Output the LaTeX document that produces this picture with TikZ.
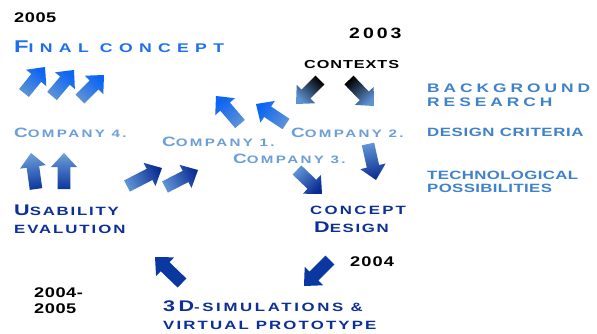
\documentclass[tikz,border=0pt]{standalone}
\usepackage{fontspec}
\setmainfont{Liberation Sans}
\newfontfamily\widefont{Liberation Sans}[FakeStretch=1.4]
\newfontfamily\yearfont{Liberation Sans}[FakeStretch=1.3]
\usetikzlibrary{calc}

\definecolor{brightblue}{HTML}{1E6FEF}
\definecolor{steelblue}{HTML}{3F82CC}
\definecolor{paleblue}{HTML}{6C9FD8}
\definecolor{navy}{HTML}{0C2F98}
\definecolor{arrowlight}{HTML}{5E92D4}
\definecolor{arrowbright}{HTML}{0A64F6}
\definecolor{arrowdark}{HTML}{0A2C92}
\definecolor{arrowsolid}{HTML}{0B37A0}

% font sizes for fake small caps: capital size, small size
\newcommand\setsz[2]{\def\bsz{#1}\def\ssz{#2}\fontsize{#2}{#2}\selectfont}
\newcommand\B[1]{{\fontsize{\bsz}{\bsz}\selectfont #1}}

% block arrow from tail #1 to tip #2, shaded from #3 (tail) to #4 (tip)
\newcommand\blockarrow[4]{%
  \coordinate (ba-t) at (#1);
  \coordinate (ba-h) at (#2);
  \coordinate (ba-n) at ($(ba-h)!14pt!(ba-t)$);
  \pgfmathanglebetweenpoints{\pgfpointanchor{ba-t}{center}}{\pgfpointanchor{ba-h}{center}}%
  \pgfmathsetmacro\baang{\pgfmathresult+90}%
  \path[left color=#3, right color=#4, shading angle=\baang]
    ($(ba-t)!6.3pt!90:(ba-h)$) -- ($(ba-n)!6.3pt!90:(ba-h)$) --
    ($(ba-n)!13pt!90:(ba-h)$) -- (ba-h) -- ($(ba-n)!13pt!-90:(ba-h)$) --
    ($(ba-n)!6.3pt!-90:(ba-h)$) -- ($(ba-t)!6.3pt!-90:(ba-h)$) -- cycle;
}

\tikzset{
  lbl/.style={anchor=base west, inner sep=0pt, font=\widefont\bfseries},
  year/.style={lbl, text=black},
}

\begin{document}
\begin{tikzpicture}[x=1pt, y=-1pt]
\useasboundingbox[fill=white] (0,0) rectangle (597,333);

% years
\node[year, font=\yearfont\bfseries\addfontfeature{LetterSpace=4}\setsz{14}{14}] (y2005) at (14,22) {2005};
\node[year, font=\yearfont\bfseries\addfontfeature{LetterSpace=20}\setsz{15}{15}] (y2003) at (349,38) {2003};
\node[year, font=\yearfont\bfseries\addfontfeature{LetterSpace=8}\setsz{14}{14}] (y2004) at (350,266) {2004};
\node[year, font=\yearfont\bfseries\addfontfeature{LetterSpace=4}\setsz{14}{14}] (y0405a) at (34,297) {2004-};
\node[year, font=\yearfont\bfseries\addfontfeature{LetterSpace=4}\setsz{14}{14}] (y0405b) at (34,313) {2005};

% stages
\node[lbl, text=brightblue, font=\widefont\bfseries\addfontfeature{LetterSpace=50}\setsz{17}{12.6}] (final) at (14,52) {\B{F}INAL CONCEPT};
\node[lbl, text=black, font=\widefont\bfseries\addfontfeature{LetterSpace=8}\setsz{11.6}{11.6}] (contexts) at (304,68) {CONTEXTS};

% right-hand column: letter spacing / size
\tikzset{side/.style 2 args={lbl, text=steelblue, font=\widefont\bfseries\addfontfeature{LetterSpace=#1}\setsz{#2}{#2}}}
\node[side={32}{12.4}] (bg1) at (427,92) {BACKGROUND};
\node[side={32}{12.4}] (bg2) at (427,106) {RESEARCH};
\node[side={5}{12}] (crit) at (427,136) {DESIGN CRITERIA};
\node[side={3}{12}] (tech1) at (427,179) {TECHNOLOGICAL};
\node[side={3}{12}] (tech2) at (427,192) {POSSIBILITIES};

\tikzset{company/.style={lbl, text=paleblue, font=\widefont\bfseries\addfontfeature{LetterSpace=22}\setsz{13.5}{10.8}}}
\node[company] (c4) at (14,137) {\B{C}OMPANY 4.};
\node[company] (c1) at (162,146) {\B{C}OMPANY 1.};
\node[company] (c2) at (291,137) {\B{C}OMPANY 2.};
\node[company] (c3) at (233,163) {\B{C}OMPANY 3.};

\tikzset{dark/.style={lbl, text=navy, font=\widefont\bfseries\addfontfeature{LetterSpace=#1}\setsz{15.4}{12}}}
\node[dark=15] (usab1) at (14,215) {\B{U}SABILITY};
\node[dark=16] (usab2) at (14,233) {EVALUTION};
\node[dark=19] (cd1) at (310,214) {CONCEPT};
\node[dark=14] (cd2) at (314,232) {\B{D}ESIGN};
\node[dark=22] (sim1) at (163,311) {\B{3D}-SIMULATIONS \&};
\node[dark=18] (sim2) at (163,329) {VIRTUAL PROTOTYPE};

% arrows towards the final concept
\blockarrow{24,93}{45,67}{arrowlight}{arrowbright}
\blockarrow{52,96}{74,70}{arrowlight}{arrowbright}
\blockarrow{80,99}{104,75}{arrowlight}{arrowbright}
% arrows from the companies upward
\blockarrow{240,124}{216,96}{arrowlight}{arrowbright}
\blockarrow{286,124}{256,104}{arrowlight}{arrowbright}
% arrows out of the contexts
\blockarrow{320,80}{296,104}{black}{arrowlight}
\blockarrow{349,80}{374,106}{black}{arrowlight}
% usability evaluation up to company 4
\blockarrow{36,189}{31,153}{arrowsolid}{paleblue}
\blockarrow{64,189}{64,153}{arrowsolid}{paleblue}
% usability evaluation across to company 1
\blockarrow{127,186}{162,168}{arrowlight}{arrowdark}
\blockarrow{165,187}{198,170}{arrowlight}{arrowdark}
% companies down to the concept design
\blockarrow{297,170}{322,194}{arrowlight}{arrowdark}
\blockarrow{368,144}{376,180}{arrowlight}{arrowdark}
% the loop through the simulations
\blockarrow{182,283}{155,257}{arrowsolid}{arrowsolid}
\blockarrow{330,260}{304,286}{arrowsolid}{arrowsolid}
\end{tikzpicture}
\end{document}
